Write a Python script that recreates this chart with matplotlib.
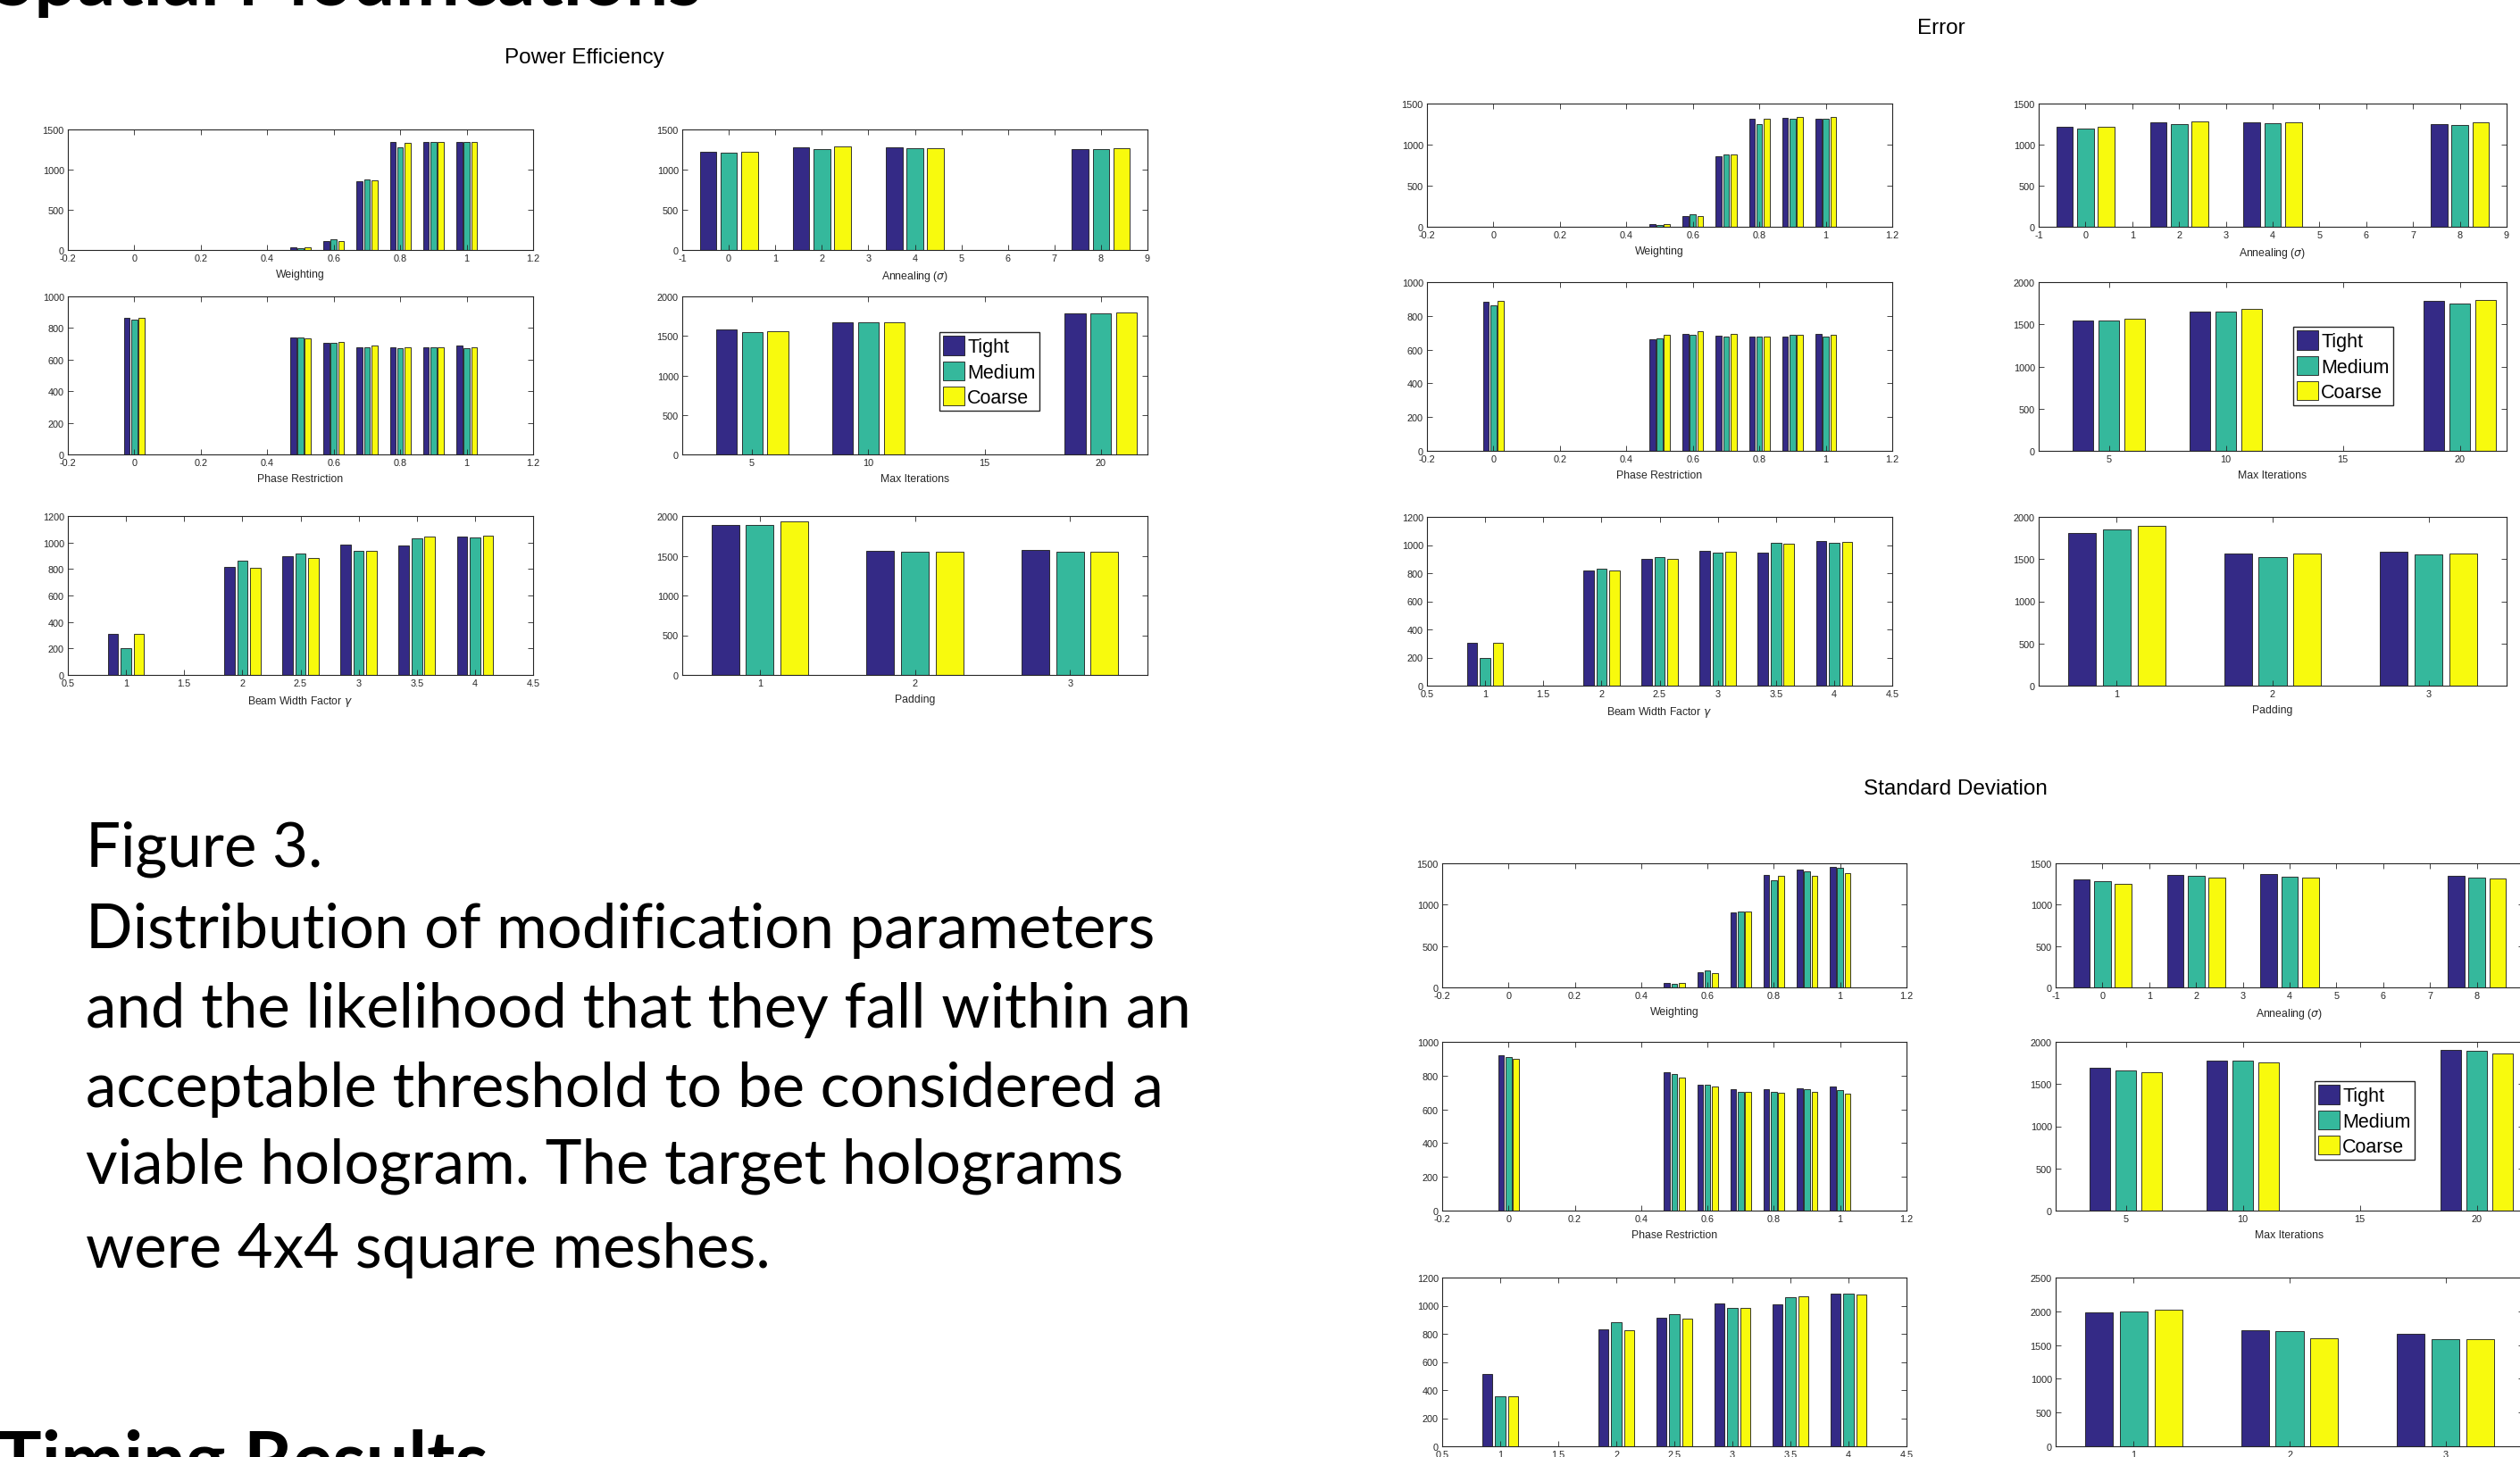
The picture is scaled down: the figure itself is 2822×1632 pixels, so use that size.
import numpy as np
import matplotlib
matplotlib.use("Agg")
import matplotlib.pyplot as plt
from matplotlib.ticker import FormatStrFormatter

W, H = 2822, 1633
plt.rcParams['font.family'] = ['Liberation Sans', 'DejaVu Sans']
plt.rcParams['axes.unicode_minus'] = False

# ---- data ----
series = ['Tight', 'Medium', 'Coarse']
colors = ['#342A86', '#35B89C', '#F8FA0D']

weight_x = [0.5, 0.6, 0.7, 0.8, 0.9, 1.0]
anneal_x = [0, 2, 4, 8]
phase_x = [0, 0.5, 0.6, 0.7, 0.8, 0.9, 1.0]
iter_x = [5, 10, 20]
beam_x = [1, 2, 2.5, 3, 3.5, 4]
pad_x = [1, 2, 3]

# rows: Tight, Medium, Coarse
pe_weighting = [[30, 112, 853, 1343, 1343, 1343], [20, 131, 875, 1283, 1343, 1343], [32, 108, 864, 1335, 1343, 1343]]
pe_annealing = [[1217, 1282, 1282, 1260], [1206, 1260, 1271, 1260], [1217, 1289, 1271, 1271]]
pe_phase = [[865, 741, 709, 680, 680, 680, 692], [855, 741, 709, 680, 673, 680, 673], [865, 737, 714, 692, 680, 680, 680]]
pe_iters = [[1583, 1673, 1786], [1549, 1673, 1786], [1564, 1673, 1801]]
pe_beam = [[307, 817, 895, 983, 977, 1044], [201, 862, 916, 938, 1029, 1038], [311, 812, 882, 934, 1044, 1049]]
pe_padding = [[1887, 1564, 1571], [1887, 1549, 1556], [1932, 1549, 1549]]

err_weighting = [[38, 135, 857, 1320, 1327, 1320], [26, 154, 883, 1252, 1312, 1320], [38, 132, 883, 1320, 1338, 1338]]
err_annealing = [[1212, 1268, 1268, 1253], [1201, 1253, 1260, 1242], [1212, 1286, 1275, 1268]]
err_phase = [[881, 662, 695, 684, 679, 679, 695], [863, 668, 690, 679, 677, 686, 677], [891, 686, 708, 693, 677, 690, 690]]
err_iters = [[1549, 1652, 1780], [1542, 1652, 1751], [1568, 1678, 1788]]
err_beam = [[306, 817, 900, 961, 946, 1031], [196, 830, 913, 948, 1018, 1018], [306, 817, 900, 955, 1012, 1025]]
err_padding = [[1813, 1563, 1585], [1852, 1525, 1553], [1894, 1563, 1563]]

sd_weighting = [[58, 181, 904, 1355, 1428, 1457], [47, 206, 922, 1294, 1402, 1446], [58, 170, 914, 1345, 1345, 1381]]
sd_annealing = [[1301, 1358, 1372, 1351], [1287, 1351, 1340, 1329], [1255, 1322, 1322, 1315]]
sd_phase = [[920, 819, 745, 719, 719, 724, 733], [908, 809, 745, 706, 706, 719, 712], [897, 791, 735, 706, 696, 703, 692]]
sd_iters = [[1698, 1783, 1908], [1659, 1776, 1897], [1641, 1755, 1858]]
sd_beam = [[512, 830, 916, 1016, 1007, 1088], [353, 882, 940, 982, 1060, 1088], [353, 825, 910, 982, 1064, 1079]]
sd_padding = [[1984, 1715, 1667], [2002, 1702, 1592], [2024, 1596, 1592]]

caption = ["Figure 3.",
           "Distribution of modification parameters",
           "and the likelihood that they fall within an",
           "acceptable threshold to be considered a",
           "viable hologram. The target holograms",
           "were 4x4 square meshes."]

fig = plt.figure(figsize=(W / 100, H / 100), dpi=100)
fig.patch.set_facecolor('white')
ink = '#262626'


def panel(l, r, t, b, x, vals, xlim, xticks, ylim, ystep, xlabel):
    ax = fig.add_axes([l / W, 1 - b / H, (r - l) / W, (b - t) / H])
    x = np.asarray(x, float)
    dx = np.min(np.diff(x))
    for k in range(3):
        ax.bar(x + (k - 1) * 0.2222 * dx, vals[k], width=0.178 * dx, color=colors[k],
               edgecolor='#1a1a1a', linewidth=0.6, label=series[k])
    ax.set_xlim(xlim)
    ax.set_xticks(xticks)
    ax.set_ylim(ylim)
    ax.set_yticks(np.arange(ylim[0], ylim[1] + 1, ystep))
    ax.xaxis.set_major_formatter(FormatStrFormatter('%g'))
    ax.yaxis.set_major_formatter(FormatStrFormatter('%g'))
    ax.tick_params(direction='in', top=True, right=True, length=4, width=0.6,
                   labelsize=7.8, colors=ink, pad=3)
    ax.set_xlabel(xlabel, fontsize=8.8, color=ink, labelpad=5)
    for s in ax.spines.values():
        s.set_linewidth(0.8)
        s.set_color(ink)
    return ax


def group(cols, rows, data, pad_ylim, title, title_xy, leg_xy):
    (l1, r1), (l2, r2) = cols
    (t1, b1), (t2, b2), (t3, b3) = rows
    w, a, p, it, bm, pd = data
    panel(l1, r1, t1, b1, weight_x, w, (-0.2, 1.2), np.arange(-0.2, 1.21, 0.2), (0, 1500), 500, 'Weighting')
    panel(l2, r2, t1, b1, anneal_x, a, (-1, 9), range(-1, 10), (0, 1500), 500, r'Annealing ($\sigma$)')
    panel(l1, r1, t2, b2, phase_x, p, (-0.2, 1.2), np.arange(-0.2, 1.21, 0.2), (0, 1000), 200, 'Phase Restriction')
    ax = panel(l2, r2, t2, b2, iter_x, it, (2, 22), [5, 10, 15, 20], (0, 2000), 500, 'Max Iterations')
    panel(l1, r1, t3, b3, beam_x, bm, (0.5, 4.5), np.arange(0.5, 4.51, 0.5), (0, 1200), 200, r'Beam Width Factor $\gamma$')
    panel(l2, r2, t3, b3, pad_x, pd, (0.5, 3.5), [1, 2, 3], (0, pad_ylim), 500, 'Padding')
    ax.legend(loc='upper left', bbox_to_anchor=(leg_xy[0] / W, 1 - leg_xy[1] / H),
              bbox_transform=fig.transFigure, fontsize=15.5, frameon=True, fancybox=False,
              edgecolor=ink, framealpha=1, handlelength=1.1, handleheight=1.15,
              handletextpad=0.15, labelspacing=0.25, borderpad=0.2, borderaxespad=0)
    fig.text(title_xy[0] / W, 1 - title_xy[1] / H, title, fontsize=17.5, color='black',
             ha='center', va='center')


group([(76, 597), (764, 1285)], [(146, 281), (333, 510), (579, 757)],
      [pe_weighting, pe_annealing, pe_phase, pe_iters, pe_beam, pe_padding], 2000,
      'Power Efficiency', (654, 65), (1052, 373))
group([(1598, 2119), (2283, 2807)], [(117, 255), (317, 506), (580, 769)],
      [err_weighting, err_annealing, err_phase, err_iters, err_beam, err_padding], 2000,
      'Error', (2174, 32), (2568, 367))
group([(1615, 2135), (2302, 2826)], [(968, 1107), (1168, 1357), (1432, 1621)],
      [sd_weighting, sd_annealing, sd_phase, sd_iters, sd_beam, sd_padding], 2500,
      'Standard Deviation', (2190, 884), (2592, 1212))

# slide text
renderer = fig.canvas.get_renderer()


def fit_size(s, width, size0, **kw):
    t = fig.text(0, 0, s, fontsize=size0, **kw)
    wpx = t.get_window_extent(renderer=renderer).width
    t.remove()
    return size0 * width / wpx


cap_size = fit_size(caption[2], 1236, 40, family=['Lato', 'DejaVu Sans'])
baselines = [971, 1062, 1151, 1240, 1326, 1420]
for line, yb in zip(caption, baselines):
    fig.text(96 / W, 1 - yb / H, line, fontsize=cap_size, family=['Lato', 'DejaVu Sans'],
             va='baseline', ha='left', color='black')

head_size = fit_size('Timing Results', 552, 50, family=['Lato', 'DejaVu Sans'], weight='bold')
fig.text(-4 / W, 1 - 1600 / H, 'Timing Results', fontsize=head_size, weight='bold',
         family=['Lato', 'DejaVu Sans'], va='top', ha='left', color='black')
fig.text(-8 / W, 1 - 6 / H, 'Spatial Modifications', fontsize=head_size, weight='bold',
         family=['Lato', 'DejaVu Sans'], va='baseline', ha='left', color='black')

fig.savefig('out.png', dpi=100, facecolor='white')
